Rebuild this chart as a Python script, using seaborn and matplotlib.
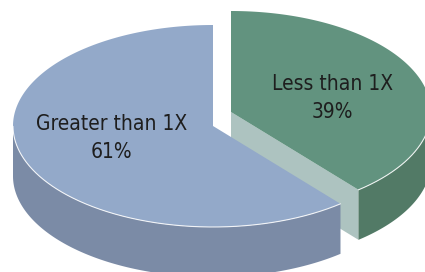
import numpy as np
import matplotlib
matplotlib.use("Agg")
import matplotlib.pyplot as plt
import seaborn as sns
from matplotlib.patches import Polygon

# Data
labels = ["Less than 1X", "Greater than 1X"]
shares = [39, 61]

# Colours (top surface, outer wall, cut face)
top_colors = ["#62937f", "#93a9c9"]
side_colors = ["#527a66", "#7b8ba6"]
cut_colors = ["#adc3c0", "#a9b9d0"]

sns.set_style("white")
plt.rcParams["font.family"] = ["DejaVu Sans"]

fig = plt.figure(figsize=(4.25, 2.72), dpi=100)
ax = fig.add_axes([0, 0, 1, 1])
ax.set_xlim(0, 425)
ax.set_ylim(272, 0)
ax.set_axis_off()

# 3D pie geometry (pixel units)
a, b, depth = 200, 101, 50
cx, cy = 222, 119
shifts = [(9, -7), (-9, 7)]
label_r = 0.54
label_dy = [4, -6]


def rim(x0, y0, t):
    r = np.radians(t)
    return x0 + a * np.cos(r), y0 - b * np.sin(r)


start = 90.0
fracs = np.array(shares) / np.sum(shares)
for i, (lab, f) in enumerate(zip(labels, fracs)):
    t1 = start
    t2 = start - f * 360
    start = t2
    x0, y0 = cx + shifts[i][0], cy + shifts[i][1]

    # cut faces
    for t, sign in ((t1, -1), (t2, 1)):
        if sign * np.cos(np.radians(t)) > 1e-6:
            ex, ey = rim(x0, y0, t)
            pts = [(x0, y0), (ex, ey), (ex, ey + depth), (x0, y0 + depth)]
            ax.add_patch(Polygon(pts, closed=True, fc=cut_colors[i], ec="none"))

    # outer wall (front-facing part)
    ts = np.linspace(t2, t1, 600)
    front = ts[np.sin(np.radians(ts)) < 0]
    if len(front) > 1:
        xs, ys = rim(x0, y0, front)
        pts = np.vstack([np.column_stack([xs, ys]),
                         np.column_stack([xs[::-1], ys[::-1] + depth])])
        ax.add_patch(Polygon(pts, closed=True, fc=side_colors[i], ec="none"))

    # top surface
    xs, ys = rim(x0, y0, ts)
    pts = np.vstack([[x0, y0], np.column_stack([xs, ys])])
    ax.add_patch(Polygon(pts, closed=True, fc=top_colors[i], ec="none"))
    if len(front) > 1:
        fx, fy = rim(x0, y0, front)
        ax.plot(fx, fy, color="white", lw=0.8, alpha=0.85)

    # label
    mid = np.radians((t1 + t2) / 2)
    lx = x0 + label_r * a * np.cos(mid)
    ly = y0 - label_r * b * np.sin(mid) + label_dy[i]
    ax.text(lx, ly, f"{lab}\n{shares[i]}%", ha="center", va="center",
            fontsize=15, fontstretch="condensed", color="#1e1e1e",
            linespacing=1.5)

fig.savefig("out.png", dpi=100)
